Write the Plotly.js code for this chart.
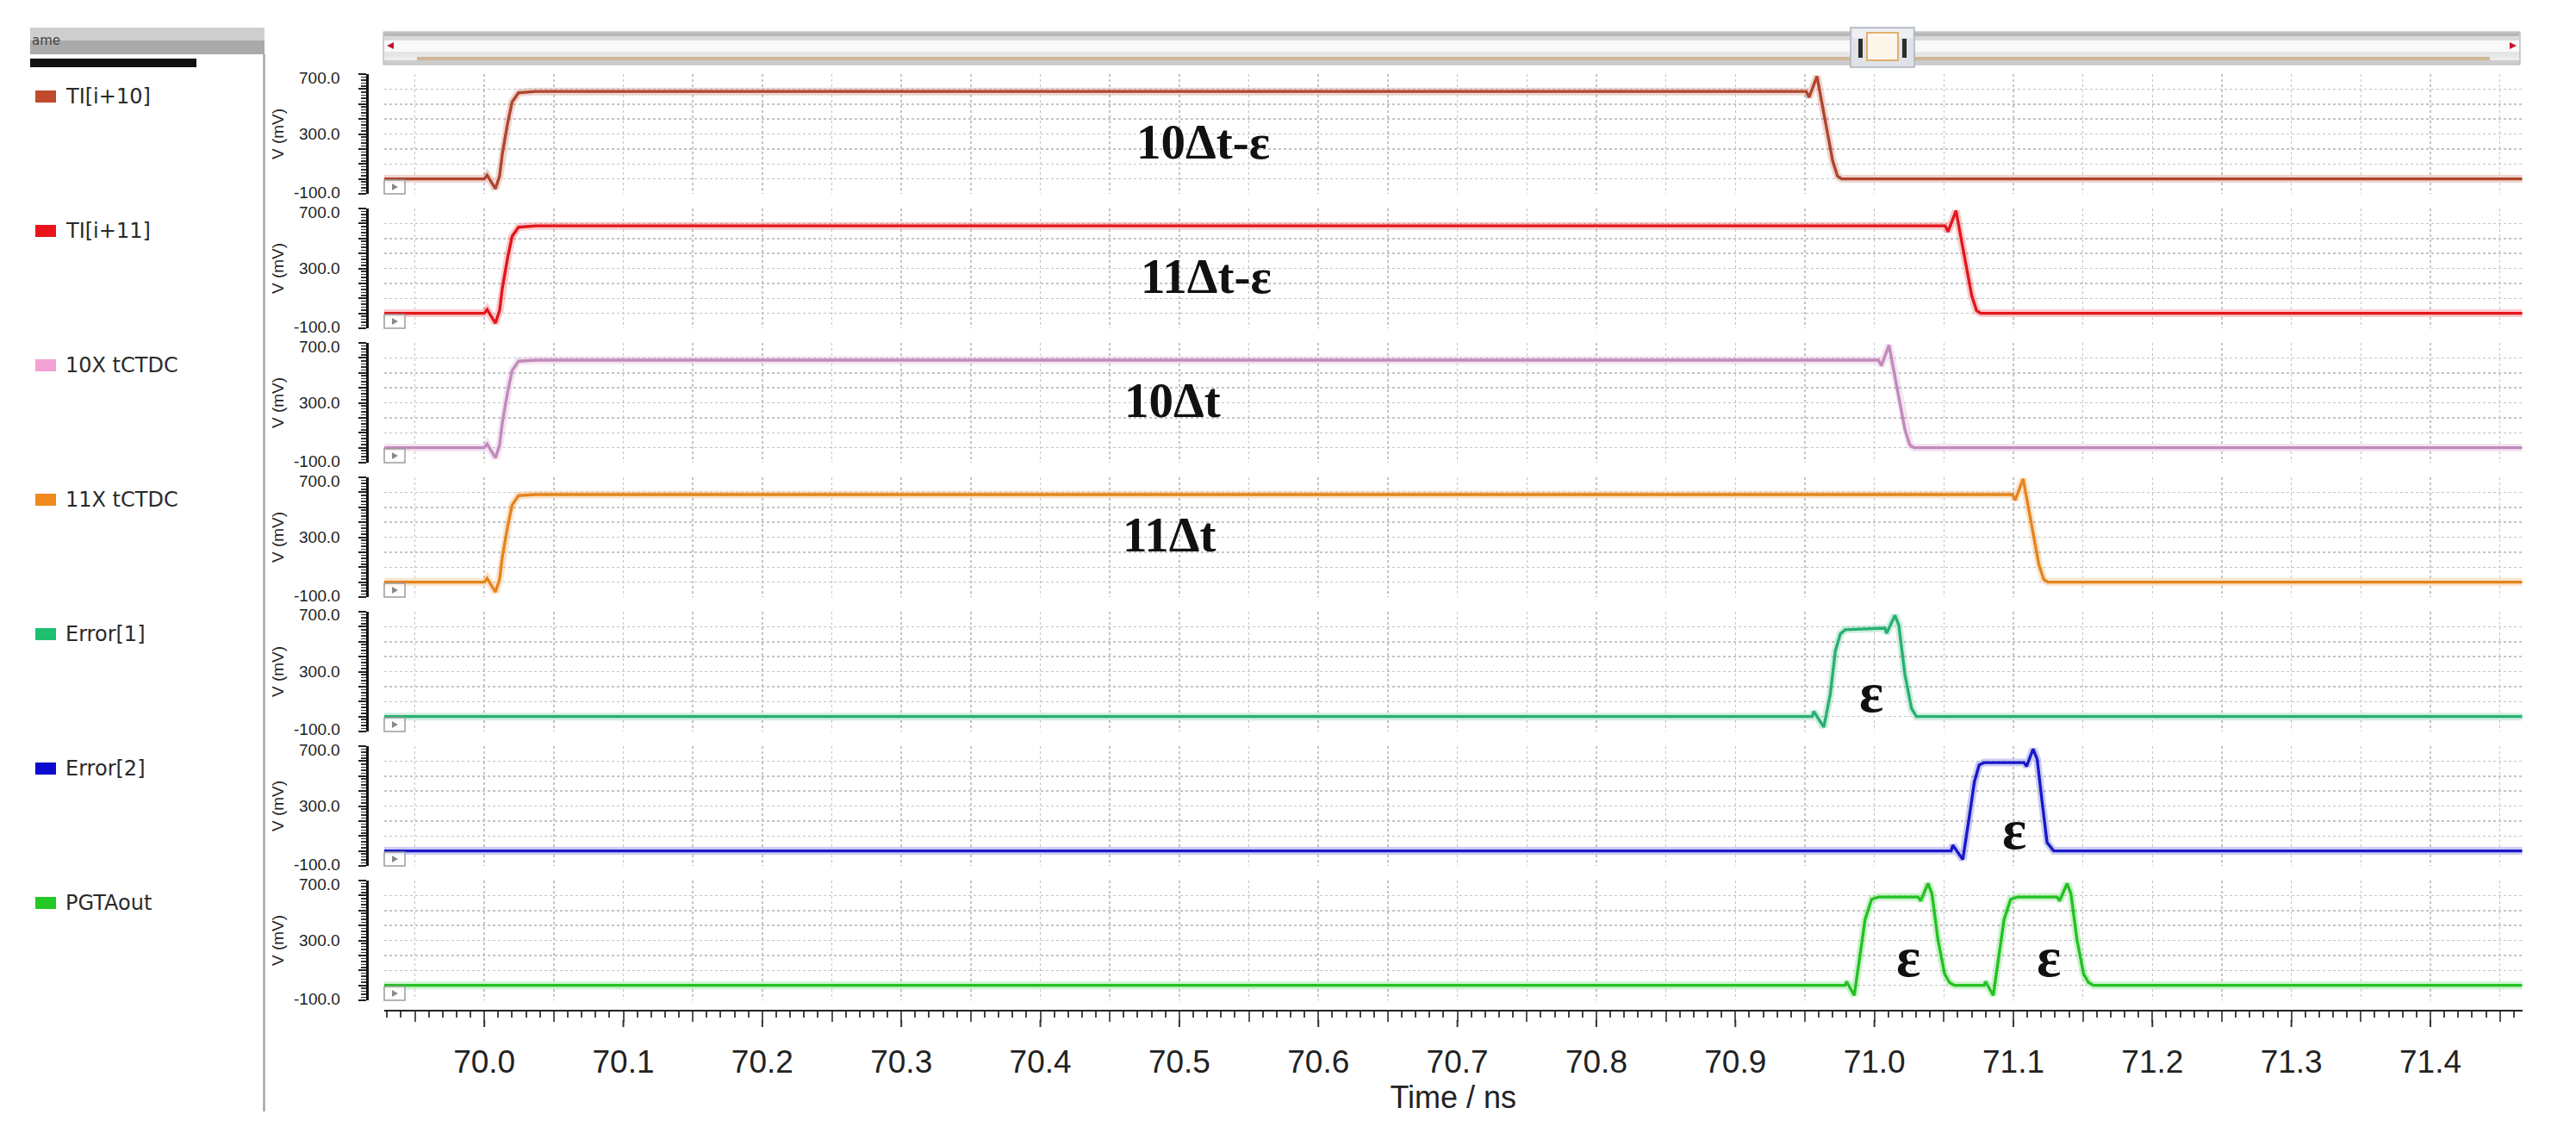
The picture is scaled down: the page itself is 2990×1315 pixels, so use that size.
<!DOCTYPE html>
<html>
<head>
<meta charset="utf-8">
<script src="https://cdn.plot.ly/plotly-3.0.1.min.js"></script>
<style>html,body{margin:0;padding:0;background:#fff;}#chart{width:2990px;height:1315px;}</style>
</head>
<body>
<div id="chart"></div>
<script>
// ---------------- DATA ----------------
const seriesNames = ['TI[i+10]', 'TI[i+11]', '10X tCTDC', '11X tCTDC', 'Error[1]', 'Error[2]', 'PGTAout'];

// time (ns) / voltage (mV) samples
const ti10_t = [69.92, 70.000, 70.002, 70.008, 70.011, 70.013, 70.017, 70.020, 70.0246, 70.030, 70.037, 70.951, 70.953, 70.9587, 70.964, 70.970, 70.9735, 70.9765, 71.47];
const ti10_v = [0, 0, 25, -66, 20, 170, 383, 515, 575, 580, 584, 584, 545, 685, 425, 120, 18, 0, 0];

const ti11_t = [69.92, 70.000, 70.002, 70.008, 70.011, 70.013, 70.017, 70.020, 70.0246, 70.030, 70.037, 71.051, 71.053, 71.0587, 71.064, 71.070, 71.0735, 71.0765, 71.47];
const ti11_v = [0, 0, 25, -66, 20, 170, 383, 515, 575, 580, 584, 584, 545, 685, 425, 120, 18, 0, 0];

const x10_t = [69.92, 70.000, 70.002, 70.008, 70.011, 70.013, 70.017, 70.020, 70.0246, 70.030, 70.037, 71.003, 71.005, 71.0105, 71.016, 71.022, 71.0255, 71.0285, 71.47];
const x10_v = [0, 0, 25, -68, 20, 170, 383, 515, 578, 582, 585, 585, 548, 685, 425, 120, 18, 0, 0];

const x11_t = [69.92, 70.000, 70.002, 70.008, 70.011, 70.013, 70.017, 70.020, 70.0246, 70.030, 70.037, 71.0993, 71.1013, 71.107, 71.1123, 71.1183, 71.1218, 71.1248, 71.47];
const x11_v = [0, 0, 25, -66, 20, 170, 383, 515, 578, 582, 585, 585, 548, 690, 425, 120, 18, 0, 0];

const err1_t = [69.92, 70.9553, 70.9564, 70.9636, 70.9683, 70.9719, 70.9755, 70.979, 71.0076, 71.0088, 71.0148, 71.0176, 71.0219, 71.0267, 71.0302, 71.47];
const err1_v = [0, 0, 34, -71, 150, 437, 552, 580, 590, 556, 676, 609, 284, 54, 0, 0];

const err2_t = [69.92, 71.0552, 71.0564, 71.0636, 71.0683, 71.0719, 71.0754, 71.079, 71.1076, 71.1095, 71.1142, 71.1171, 71.1207, 71.1242, 71.129, 71.47];
const err2_v = [0, 0, 38, -57, 230, 460, 575, 590, 590, 565, 680, 613, 326, 57, 0, 0];

const pgta_t = [69.92, 70.979, 70.980, 70.9855, 70.9898, 70.9933, 70.998, 71.0029, 71.0314, 71.0333, 71.0386, 71.0414, 71.0457, 71.0505, 71.054, 71.0576,
                71.079, 71.080, 71.0855, 71.0898, 71.0933, 71.098, 71.1029, 71.1314, 71.1333, 71.1386, 71.1414, 71.1457, 71.1505, 71.154, 71.1576, 71.47];
const pgta_v = [0, 0, 25, -67, 210, 440, 575, 590, 590, 565, 680, 613, 307, 77, 19, 0,
                0, 25, -67, 210, 440, 575, 590, 590, 565, 680, 613, 307, 77, 19, 0, 0];

const seriesT = [ti10_t, ti11_t, x10_t, x11_t, err1_t, err2_t, pgta_t];
const seriesV = [ti10_v, ti11_v, x10_v, x11_v, err1_v, err2_v, pgta_v];

const xTickLabels = ['70.0', '70.1', '70.2', '70.3', '70.4', '70.5', '70.6', '70.7', '70.8', '70.9', '71.0', '71.1', '71.2', '71.3', '71.4'];
const yTickVals = [-100, 0, 100, 200, 300, 400, 500, 600, 700];
const yTickText = ['-100.0', '', '', '', '300.0', '', '', '', '700.0'];

// annotation labels
const annoTexts = ['10\u0394t-\u03b5', '11\u0394t-\u03b5', '10\u0394t', '11\u0394t', '\u03b5', '\u03b5', '\u03b5', '\u03b5'];
const annoX = [70.517, 70.519, 70.495, 70.493, 70.998, 71.1004, 71.0243, 71.1254];
const annoY = [250, 250, 320, 320, 160, 144, 192, 192];
const annoPanel = [0, 1, 2, 3, 4, 5, 6, 6];

// ---------------- STYLE ----------------
const lineColors = ['#b0452e', '#e3161b', '#c28abb', '#e5841c', '#27b072', '#1818c8', '#22c222'];
const legendColors = ['#c24a2c', '#e8141a', '#f2a2d4', '#f08a1c', '#1fbf70', '#0c0cd0', '#22c922'];

const W = 2990, H = 1315;
const fx = p => p / W;
const fy = p => 1 - p / H;
const panelTop = i => 86 + 156 * i;
const panelBot = i => 225 + 156 * i;
const plotL = 446, plotR = 2927.5;
const axisY = 1173;

const traces = [];
seriesNames.forEach((name, i) => {
  const ya = i === 0 ? 'y' : 'y' + (i + 1);
  traces.push({x: seriesT[i], y: seriesV[i], type: 'scatter', mode: 'lines', xaxis: 'x', yaxis: ya,
    line: {color: lineColors[i], width: 9}, opacity: 0.22, hoverinfo: 'skip', showlegend: false});
  traces.push({x: seriesT[i], y: seriesV[i], type: 'scatter', mode: 'lines', xaxis: 'x', yaxis: ya, name: name,
    line: {color: lineColors[i], width: 3.4}, showlegend: false});
});

// x ticks: every 0.05 (grid), labelled every 0.1
const xTickVals = [69.95], xTickText = [''];
xTickLabels.forEach(l => {
  const v = parseFloat(l);
  xTickVals.push(v); xTickText.push(l);
  xTickVals.push(+(v + 0.05).toFixed(2)); xTickText.push('');
});

const layout = {
  width: W, height: H,
  margin: {l: 0, r: 0, t: 0, b: 0},
  paper_bgcolor: '#ffffff', plot_bgcolor: '#ffffff',
  showlegend: false,
  font: {family: 'Liberation Sans, Arial, sans-serif', color: '#222'},
  xaxis: {
    domain: [fx(plotL), fx(plotR)], range: [69.928, 71.466],
    anchor: 'free', position: fy(axisY),
    showline: true, linecolor: '#222', linewidth: 2,
    ticks: 'outside', ticklen: 12, tickwidth: 2, tickcolor: '#555',
    tickmode: 'array', tickvals: xTickVals, ticktext: xTickText,
    tickfont: {size: 37, family: 'Liberation Sans, Arial, sans-serif', color: '#222'},
    ticklabelstandoff: 15,
    showgrid: true, gridcolor: '#c4c4c4', griddash: 'dot', gridwidth: 1.5, zeroline: false,
    minor: {tickmode: 'linear', tick0: 70, dtick: 0.01, ticklen: 7, tickwidth: 2, tickcolor: '#444', showgrid: false},
    title: {text: 'Time / ns', font: {size: 36, color: '#222'}, standoff: 6},
    automargin: false, fixedrange: true
  },
  shapes: [], annotations: []
};

for (let i = 0; i < 7; i++) {
  const key = i === 0 ? 'yaxis' : 'yaxis' + (i + 1);
  layout[key] = {
    domain: [fy(panelBot(i)), fy(panelTop(i))], range: [-100, 700],
    anchor: 'free', position: fx(426),
    showline: true, linecolor: '#111', linewidth: 3,
    ticks: 'outside', ticklen: 9, tickwidth: 2, tickcolor: '#222',
    tickmode: 'array', tickvals: yTickVals, showticklabels: false,
    showgrid: true, gridcolor: '#c4c4c4', griddash: 'dot', gridwidth: 1.5, zeroline: false,
    minor: {tickmode: 'linear', tick0: -100, dtick: 20, ticklen: 6, tickwidth: 1.5, tickcolor: '#333', showgrid: false},
    title: {text: 'V (mV)', font: {size: 19, color: '#222'}, standoff: 80},
    automargin: false, fixedrange: true
  };
}

const S = layout.shapes, A = layout.annotations;
const rect = (x0, y0, x1, y1, fill, line, lw) => S.push({type: 'rect', xref: 'paper', yref: 'paper', x0: fx(x0), x1: fx(x1), y0: fy(y1), y1: fy(y0),
  fillcolor: fill, line: {color: line || 'rgba(0,0,0,0)', width: lw || 0}, layer: 'above'});
const path = (pts, fill) => S.push({type: 'path', xref: 'paper', yref: 'paper', layer: 'above',
  path: 'M ' + pts.map(p => fx(p[0]) + ',' + fy(p[1])).join(' L ') + ' Z', fillcolor: fill, line: {width: 0}});

// longer marks under the labelled x ticks
xTickLabels.forEach(l => {
  const v = parseFloat(l);
  S.push({type: 'line', xref: 'x', yref: 'paper', x0: v, x1: v, y0: fy(axisY + 11), y1: fy(axisY + 19),
    line: {color: '#333', width: 2}, layer: 'above'});
});

// y tick labels of each strip (nudged inwards so neighbouring strips stay readable)
for (let i = 0; i < 7; i++) {
  const yref = i === 0 ? 'y' : 'y' + (i + 1);
  yTickVals.forEach((v, k) => {
    if (!yTickText[k]) return;
    const shift = v === yTickVals[0] ? 2 : (v === yTickVals[yTickVals.length - 1] ? -4 : 0);
    A.push({xref: 'paper', yref: yref, x: fx(397), y: v, yshift: shift, xanchor: 'right', yanchor: 'middle',
      showarrow: false, text: yTickText[k], font: {size: 19, color: '#222', family: 'Liberation Sans, Arial, sans-serif'}});
  });
}

// --- top scroll bar ---
rect(445, 37, 2925, 75, '#ececec', '#a4a4a4', 1);
rect(446, 38, 2924, 42, '#b8b8b8');
rect(446, 42, 2924, 47, '#dadada');
rect(446, 47, 2924, 60, '#f9f9f9');
rect(446, 60, 2924, 66, '#e6e6e6');
rect(484, 66, 2890, 70, '#cfb697');
rect(446, 70, 2924, 74, '#cdcdcd');
path([[449, 53], [457, 49], [457, 57]], '#c8102e');
path([[2921, 53], [2913, 49], [2913, 57]], '#c8102e');
// thumb
rect(2148, 32, 2222, 78, '#dfe3e9', '#aeb3bb', 1.5);
rect(2150, 34, 2220, 44, '#eef0f3');
rect(2167, 38, 2203, 70, '#fdf6ea', '#e2b06e', 2);
rect(2157, 45, 2162, 67, '#2b2b2b');
rect(2208, 45, 2213, 67, '#2b2b2b');

// --- left signal panel ---
rect(35, 32, 307, 47, '#cfcfcf');
rect(35, 47, 307, 63, '#aaaaaa');
rect(35, 68, 228, 78, '#111111');
S.push({type: 'line', xref: 'paper', yref: 'paper', x0: fx(306.5), x1: fx(306.5), y0: fy(63), y1: fy(1290), line: {color: '#a6a6a6', width: 2.5}, layer: 'above'});
A.push({xref: 'paper', yref: 'paper', x: fx(35), y: fy(47), xanchor: 'left', yanchor: 'middle', showarrow: false,
  text: 'ame', font: {size: 15, color: '#444', family: 'DejaVu Sans, sans-serif'}});

seriesNames.forEach((name, i) => {
  const cy = 112 + 156 * i;
  rect(41, cy - 7, 65, cy + 7, legendColors[i]);
  A.push({xref: 'paper', yref: 'paper', x: fx(74), y: fy(cy), xanchor: 'left', yanchor: 'middle', showarrow: false,
    text: name, font: {size: 24, color: '#2a2a2a', family: 'DejaVu Sans, sans-serif'}});
  // small marker box at lower-left of each strip
  const by = panelBot(i);
  rect(446, by - 16, 470, by, 'rgba(255,255,255,0.6)', '#9c9c9c', 1.5);
  path([[455, by - 12], [455, by - 4], [462, by - 8]], '#8a8a8a');
});

// --- in-plot labels ---
annoTexts.forEach((t, k) => {
  const p = annoPanel[k];
  const big = t.length > 1;
  A.push({xref: 'x', yref: p === 0 ? 'y' : 'y' + (p + 1), x: annoX[k], y: annoY[k], showarrow: false,
    text: t, xanchor: 'center', yanchor: 'middle',
    font: {family: 'Liberation Serif, Times New Roman, serif', size: big ? 57 : 66, color: '#111', weight: 'bold'}});
});

Plotly.newPlot('chart', traces, layout, {displayModeBar: false, staticPlot: true});
</script>
</body>
</html>
